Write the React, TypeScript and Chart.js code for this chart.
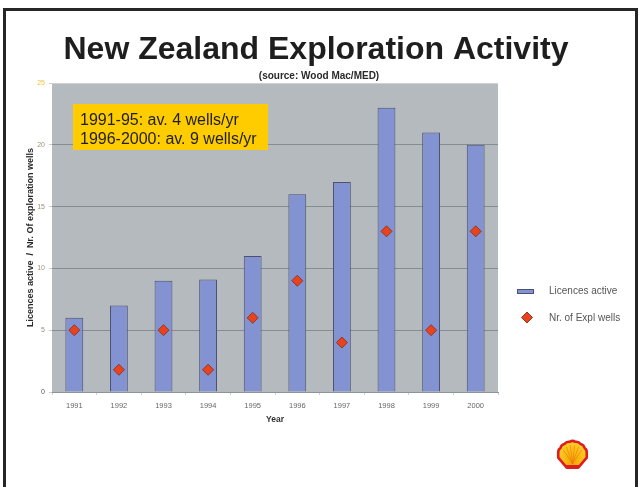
import React, { useEffect, useRef } from 'react';
import { Chart, registerables } from 'chart.js';

Chart.register(...registerables);

// ---- data ----
const years = ['1991', '1992', '1993', '1994', '1995', '1996', '1997', '1998', '1999', '2000'];
const licencesActive = [6, 7, 9, 9.1, 11, 16, 17, 23, 21, 20];
const explorationWells = [5, 1.8, 5, 1.8, 6, 9, 4, 13, 5, 13];
const yTickValues = [0, 5, 10, 15, 20, 25];
const seriesNames = ['Licences active', 'Nr. of Expl wells'];
const noteLines = ['1991-95: av. 4 wells/yr', '1996-2000: av. 9 wells/yr'];
const titleText = 'New Zealand Exploration Activity';
const sourceText = '(source: Wood Mac/MED)';
const yTitleText = 'Licences active  /  Nr. Of exploration wells';
const xTitleText = 'Year';

// ---- styling ----
const FONT = '"Liberation Sans", Arial, Helvetica, sans-serif';
const BAR_FILL = '#8392D0';
const BAR_EDGE = '#4B5172';
const DIAMOND_FILL = '#E8431E';
const DIAMOND_EDGE = '#8E3B22';
const PLOT_BG = '#B4BABD';
const GRID = '#868D91';
const NOTE_BG = '#FFCC00';

function drawDiamond(ctx: CanvasRenderingContext2D, x: number, y: number, r: number) {
  ctx.beginPath();
  ctx.moveTo(x - r, y);
  ctx.lineTo(x, y - r);
  ctx.lineTo(x + r, y);
  ctx.lineTo(x, y + r);
  ctx.closePath();
  ctx.fillStyle = DIAMOND_FILL;
  ctx.fill();
  ctx.strokeStyle = DIAMOND_EDGE;
  ctx.lineWidth = 1;
  ctx.stroke();
}

// Company emblem: a scalloped fan shell
function drawShell(ctx: CanvasRenderingContext2D, cx: number, cy: number, s: number) {
  ctx.save();
  const n = 7;
  const a0 = Math.PI * 1.06;
  const a1 = Math.PI * 1.94;
  const baseY = cy + s * 0.8;
  const path = new Path2D();
  path.moveTo(cx - s * 0.4, baseY);
  path.lineTo(cx + s * Math.cos(a0), cy + s * Math.sin(a0) + s * 0.3);
  path.lineTo(cx + s * Math.cos(a0), cy + s * Math.sin(a0));
  for (let i = 0; i < n; i++) {
    const t1 = a0 + ((a1 - a0) * (i + 1)) / n;
    const tm = a0 + ((a1 - a0) * (i + 0.5)) / n;
    path.quadraticCurveTo(
      cx + s * 1.1 * Math.cos(tm),
      cy + s * 1.1 * Math.sin(tm),
      cx + s * Math.cos(t1),
      cy + s * Math.sin(t1)
    );
  }
  path.lineTo(cx + s * Math.cos(a1), cy + s * Math.sin(a1) + s * 0.3);
  path.lineTo(cx + s * 0.4, baseY);
  path.closePath();
  const g = ctx.createRadialGradient(cx, cy + s * 0.5, 1, cx, cy, s * 1.1);
  g.addColorStop(0, '#F7A800');
  g.addColorStop(1, '#FFD02A');
  ctx.fillStyle = g;
  ctx.fill(path);
  ctx.save();
  ctx.clip(path);
  ctx.strokeStyle = 'rgba(235,110,20,0.6)';
  ctx.lineWidth = 0.9;
  for (let i = 1; i < n; i++) {
    const t = a0 + ((a1 - a0) * i) / n;
    ctx.beginPath();
    ctx.moveTo(cx, cy + s * 0.55);
    ctx.lineTo(cx + s * 0.75 * Math.cos(t), cy + s * 0.75 * Math.sin(t));
    ctx.stroke();
  }
  ctx.fillStyle = '#DD1D21';
  ctx.fillRect(cx - s, baseY - s * 0.18, s * 2, s * 0.3);
  ctx.restore();
  ctx.strokeStyle = '#DD1D21';
  ctx.lineWidth = 2.6;
  ctx.lineJoin = 'round';
  ctx.stroke(path);
  ctx.restore();
}

const pageDecor = {
  id: 'pageDecor',
  beforeDraw(chart: any) {
    const { ctx, chartArea, width, height } = chart;
    ctx.save();
    ctx.fillStyle = '#FFFFFF';
    ctx.fillRect(0, 0, width, height);
    ctx.fillStyle = PLOT_BG;
    ctx.fillRect(chartArea.left, chartArea.top, chartArea.right - chartArea.left, chartArea.bottom - chartArea.top);
    ctx.restore();
  },
  afterDatasetsDraw(chart: any) {
    const { ctx, chartArea, width, height } = chart;
    ctx.save();

    // frame
    ctx.strokeStyle = '#262626';
    ctx.lineWidth = 3;
    ctx.beginPath();
    ctx.moveTo(4.5, height + 2);
    ctx.lineTo(4.5, 9.5);
    ctx.lineTo(width - 2.5, 9.5);
    ctx.lineTo(width - 2.5, height + 2);
    ctx.stroke();

    // headline
    ctx.fillStyle = '#1E1E1E';
    ctx.textAlign = 'center';
    ctx.textBaseline = 'alphabetic';
    ctx.font = `bold 32px ${FONT}`;
    ctx.fillText(titleText, 316, 59);
    ctx.font = `bold 10px ${FONT}`;
    ctx.fillStyle = '#2A2A2A';
    ctx.textBaseline = 'middle';
    ctx.fillText(sourceText, 319, 76);

    // note box
    const bx = chartArea.left + 21;
    const by = chartArea.top + 21;
    ctx.fillStyle = NOTE_BG;
    ctx.fillRect(bx, by, 195, 46);
    ctx.fillStyle = '#1E1E1E';
    ctx.font = `16px ${FONT}`;
    ctx.textAlign = 'left';
    ctx.textBaseline = 'alphabetic';
    ctx.fillText(noteLines[0], bx + 7, by + 20.5);
    ctx.fillText(noteLines[1], bx + 7, by + 40);

    // legend
    const lx = chartArea.right + 19;
    ctx.fillStyle = BAR_FILL;
    ctx.fillRect(lx, 289, 17, 5);
    ctx.strokeStyle = BAR_EDGE;
    ctx.lineWidth = 1;
    ctx.strokeRect(lx + 0.5, 289.5, 16, 4);
    drawDiamond(ctx, lx + 10, 317.5, 5.5);
    ctx.fillStyle = '#555555';
    ctx.font = `10px ${FONT}`;
    ctx.textBaseline = 'middle';
    ctx.fillText(seriesNames[0], lx + 32, 291.5);
    ctx.fillText(seriesNames[1], lx + 32, 318);

    // emblem
    drawShell(ctx, 572.5, 456, 14.5);
    ctx.restore();
  },
};

export default function App() {
  const canvasRef = useRef<HTMLCanvasElement | null>(null);

  useEffect(() => {
    const canvas = canvasRef.current;
    if (!canvas) return;
    Chart.defaults.font.family = FONT;

    const chart = new Chart(canvas, {
      type: 'bar',
      data: {
        labels: years,
        datasets: [
          {
            type: 'line',
            label: seriesNames[1],
            data: explorationWells,
            showLine: false,
            pointStyle: 'rectRot',
            pointRadius: 5.5,
            pointHoverRadius: 5.5,
            pointBackgroundColor: DIAMOND_FILL,
            pointBorderColor: DIAMOND_EDGE,
            pointBorderWidth: 1,
            order: 0,
          } as any,
          {
            type: 'bar',
            label: seriesNames[0],
            data: licencesActive,
            backgroundColor: BAR_FILL,
            borderColor: BAR_EDGE,
            borderWidth: 1,
            categoryPercentage: 1,
            barPercentage: 0.4,
            order: 1,
          },
        ],
      },
      options: {
        responsive: false,
        animation: false,
        devicePixelRatio: 1,
        layout: { padding: { left: 8, top: 83, right: 141, bottom: 55 } },
        plugins: {
          legend: { display: false },
          title: { display: false },
          tooltip: { enabled: false },
        },
        scales: {
          x: {
            offset: true,
            grid: {
              display: true,
              offset: true,
              drawOnChartArea: false,
              drawTicks: true,
              tickLength: 3,
              tickColor: '#D0D0D0',
            },
            border: { display: true, color: '#8C9296', width: 1 },
            ticks: { color: '#666666', font: { size: 7.5 }, padding: 6 },
            title: {
              display: true,
              text: xTitleText,
              color: '#333333',
              font: { size: 8.5, weight: 'bold' },
              padding: { top: 0, bottom: 7 },
            },
            afterFit: (scale: any) => {
              scale.height = 40;
            },
          },
          y: {
            min: 0,
            max: 25,
            afterBuildTicks: (scale: any) => {
              scale.ticks = yTickValues.map((v) => ({ value: v }));
            },
            grid: {
              color: (c: any) =>
                c.tick && c.tick.value === 25 ? '#CDD1D3' : c.tick && c.tick.value === 0 ? 'rgba(0,0,0,0)' : GRID,
              drawTicks: true,
              tickLength: 3,
              tickColor: '#CCCCCC',
            },
            border: { display: false },
            ticks: {
              color: (c: any) =>
                c.tick && c.tick.value === 25 ? '#F0C040' : c.tick && c.tick.value === 0 ? '#555555' : '#9A9276',
              font: { size: 7 },
              padding: 4,
            },
            title: {
              display: true,
              text: yTitleText,
              color: '#2A2A2A',
              font: { size: 9, weight: 'bold' },
              padding: { top: 17, bottom: 0 },
            },
            afterFit: (scale: any) => {
              scale.width = 44;
            },
          },
        },
      },
      plugins: [pageDecor],
    });

    return () => chart.destroy();
  }, []);

  return (
    <div style={{ position: 'absolute', left: 0, top: 0, width: 639, height: 487, background: '#fff' }}>
      <canvas ref={canvasRef} width={639} height={487} style={{ display: 'block' }} />
    </div>
  );
}
